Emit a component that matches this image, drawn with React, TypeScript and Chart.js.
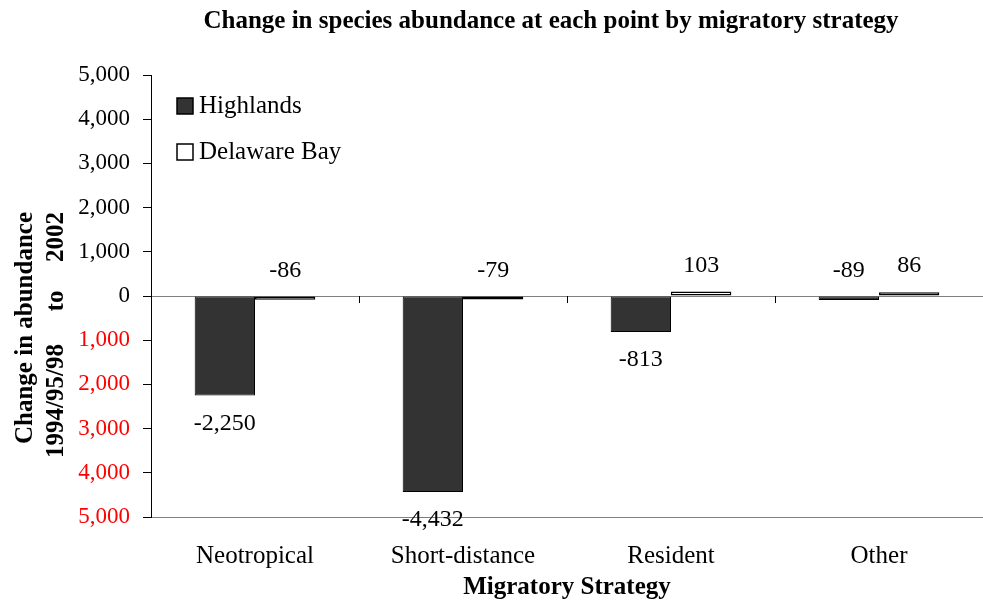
import React, { useEffect, useRef } from "react";
import { Chart, registerables } from "chart.js";

Chart.register(...registerables);

const chartTitle = "Change in species abundance at each point by migratory strategy";
const categories = ["Neotropical", "Short-distance", "Resident", "Other"];
const seriesNames = ["Highlands", "Delaware Bay"];
const highlands = [-2250, -4432, -813, -89];
const delawareBay = [-86, -79, 103, 86];
const yMin = -5000;
const yMax = 5000;
const yStep = 1000;
const xTitle = "Migratory Strategy";
const yTitleLine1 = "Change in abundance";
const yTitleLine2Parts = ["2002", "to", "1994/95/98"];

const SERIF = "'Liberation Serif', 'Times New Roman', serif";
const fmt = (v: number) => Math.abs(v).toLocaleString("en-US");
const fmtSigned = (v: number) => (v < 0 ? "-" : "") + Math.abs(v).toLocaleString("en-US");

const decorPlugin = {
  id: "decor",
  afterDatasetsDraw(chart: any) {
    const ctx = chart.ctx;
    const area = chart.chartArea;
    const yScale = chart.scales.y;
    const y0 = yScale.getPixelForValue(0);
    ctx.save();
    // category ticks on zero line
    ctx.strokeStyle = "#000";
    ctx.lineWidth = 1;
    const n = categories.length;
    const w = (area.right - area.left) / n;
    for (let i = 1; i < n; i++) {
      const x = Math.round(area.left + i * w) + 0.5;
      ctx.beginPath();
      ctx.moveTo(x, y0);
      ctx.lineTo(x, y0 + 7);
      ctx.stroke();
    }
    // data labels
    ctx.fillStyle = "#000";
    ctx.font = `24px ${SERIF}`;
    ctx.textAlign = "center";
    ctx.textBaseline = "middle";
    chart.data.datasets.forEach((ds: any, di: number) => {
      const meta = chart.getDatasetMeta(di);
      meta.data.forEach((bar: any, i: number) => {
        const v = ds.data[i];
        let y;
        if (v >= 0 || Math.abs(v) < 200) {
          y = Math.min(bar.y, bar.base) - 26;
        } else {
          y = bar.y + 28;
        }
        ctx.fillText(fmtSigned(v), bar.x, y);
      });
    });
    ctx.restore();
  },
  afterDraw(chart: any) {
    const ctx = chart.ctx;
    const area = chart.chartArea;
    ctx.save();
    ctx.fillStyle = "#000";
    ctx.textAlign = "center";
    ctx.textBaseline = "middle";
    // title
    ctx.font = `bold 25px ${SERIF}`;
    ctx.fillText(chartTitle, 551, 22);
    // x title
    ctx.font = `bold 25px ${SERIF}`;
    ctx.fillText(xTitle, (area.left + area.right) / 2, 588);
    // y title
    ctx.font = `bold 25px ${SERIF}`;
    ctx.save();
    ctx.translate(26, 328);
    ctx.rotate(-Math.PI / 2);
    ctx.fillText(yTitleLine1, 0, 0);
    ctx.restore();
    const ys = [237, 301, 401];
    yTitleLine2Parts.forEach((t, i) => {
      ctx.save();
      ctx.translate(57, ys[i]);
      ctx.rotate(-Math.PI / 2);
      ctx.fillText(t, 0, 0);
      ctx.restore();
    });
    // legend
    const items = [
      { name: seriesNames[0], fill: "#333333", y: 106 },
      { name: seriesNames[1], fill: "#ffffff", y: 152 },
    ];
    ctx.textAlign = "left";
    ctx.font = `25px ${SERIF}`;
    items.forEach((it) => {
      ctx.fillStyle = it.fill;
      ctx.fillRect(177, it.y - 8, 16, 16);
      ctx.strokeStyle = "#000";
      ctx.lineWidth = 1.5;
      ctx.strokeRect(177, it.y - 8, 16, 16);
      ctx.fillStyle = "#000";
      ctx.fillText(it.name, 199, it.y);
    });
    ctx.restore();
  },
};

export default function App() {
  const ref = useRef<HTMLCanvasElement | null>(null);
  useEffect(() => {
    document.body.style.margin = "0";
    if (!ref.current) return;
    const chart = new Chart(ref.current, {
      type: "bar",
      data: {
        labels: categories,
        datasets: [
          {
            label: seriesNames[0],
            data: highlands,
            backgroundColor: "#333333",
            borderColor: "#000000",
            borderWidth: 1,
            borderSkipped: false,
            categoryPercentage: 0.58,
            barPercentage: 1,
          },
          {
            label: seriesNames[1],
            data: delawareBay,
            backgroundColor: "#ffffff",
            borderColor: "#000000",
            borderWidth: 1.5,
            borderSkipped: false,
            categoryPercentage: 0.58,
            barPercentage: 1,
          },
        ],
      },
      options: {
        responsive: false,
        animation: false,
        layout: { padding: { top: 75, left: 0, right: 0, bottom: 0 } },
        plugins: {
          legend: { display: false },
          title: { display: false },
          tooltip: { enabled: false },
        },
        scales: {
          x: {
            afterFit: (s: any) => {
              s.height = 89;
            },
            grid: { display: true, drawOnChartArea: false, drawTicks: false },
            border: { display: true, color: "#808080", width: 1 },
            ticks: {
              color: "#000",
              font: { family: SERIF, size: 25 },
              padding: 24,
              maxRotation: 0,
            },
          },
          y: {
            min: yMin,
            max: yMax,
            afterFit: (s: any) => {
              s.width = 151;
            },
            ticks: {
              stepSize: yStep,
              color: (c: any) => (c.tick && c.tick.value < 0 ? "#ff0000" : "#000000"),
              font: { family: SERIF, size: 23 },
              padding: 13,
              callback: (v: any) => fmt(Number(v)),
            },
            grid: {
              color: (c: any) =>
                c.tick && (c.tick.value === 0 || c.tick.value === yMin) ? "#808080" : "rgba(0,0,0,0)",
              tickColor: "#000",
              tickLength: 8,
              drawTicks: true,
            },
            border: { display: true, color: "#000", width: 1 },
          },
        },
      },
      plugins: [decorPlugin],
    });
    return () => chart.destroy();
  }, []);
  return (
    <div style={{ width: 983, height: 606 }}>
      <canvas ref={ref} width={983} height={606} style={{ display: "block" }} />
    </div>
  );
}
